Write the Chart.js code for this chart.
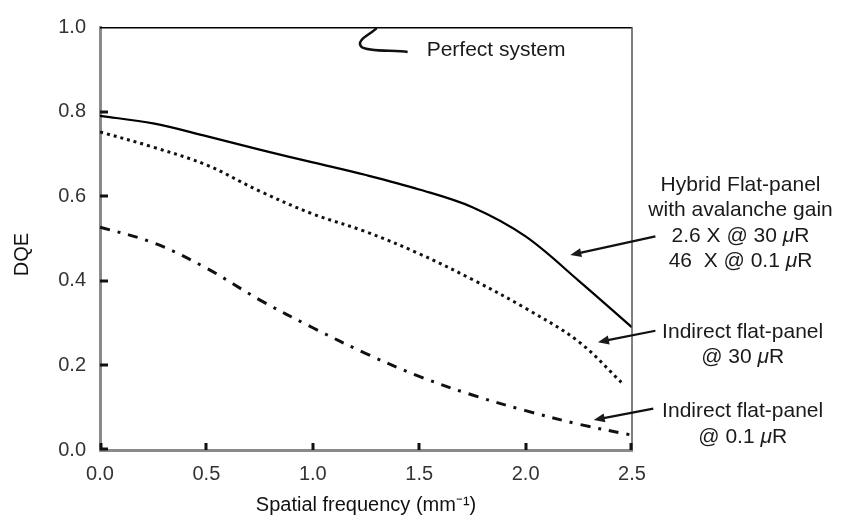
<!DOCTYPE html>
<html>
<head>
<meta charset="utf-8">
<script src="https://cdn.jsdelivr.net/npm/chart.js@4.4.1/dist/chart.umd.min.js"></script>
<style>
  html, body { margin: 0; padding: 0; background: #fff; }
</style>
</head>
<body>
<canvas id="chart_out" width="843" height="527"></canvas>
<script>
// DATA
var freq = [0, 0.25, 0.5, 0.75, 1.0, 1.25, 1.5, 1.75, 2.0, 2.25, 2.5];
var freqDotted = [0, 0.25, 0.5, 0.75, 1.0, 1.25, 1.5, 1.75, 2.0, 2.25, 2.45];
var hybridDQE = [0.79, 0.772, 0.742, 0.71, 0.68, 0.65, 0.616, 0.574, 0.505, 0.40, 0.29]; // solid
var indirect30 = [0.752, 0.716, 0.674, 0.612, 0.558, 0.516, 0.464, 0.403, 0.335, 0.256, 0.16]; // dotted
var indirect01 = [0.527, 0.49, 0.43, 0.355, 0.289, 0.228, 0.174, 0.13, 0.093, 0.061, 0.035]; // dash-dot
var perfectX = [0, 2.5];
var perfectDQE = [1.0, 1.0];
var xTicks = [0, 0.5, 1.0, 1.5, 2.0, 2.5];
var yTicks = [0, 0.2, 0.4, 0.6, 0.8, 1.0];

var FONT = '"Liberation Sans", Arial, Helvetica, sans-serif';

function pairs(xs, ys) {
  var out = [];
  for (var i = 0; i < xs.length; i++) {
    out.push({ x: xs[i], y: ys[i] });
  }
  return out;
}

// arrows + labels, anchored in data units
var notes = [
  { lines: ['Hybrid Flat-panel', 'with avalanche gain', '2.6 X @ 30 \u03BCR', '46  X @ 0.1 \u03BCR'],
    tx: 3.01, ty: 0.627, from: [2.61, 0.505], to: [2.21, 0.461] },
  { lines: ['Indirect flat-panel', '@ 30 \u03BCR'],
    tx: 3.02, ty: 0.279, from: [2.61, 0.282], to: [2.34, 0.255] },
  { lines: ['Indirect flat-panel', '@ 0.1 \u03BCR'],
    tx: 3.02, ty: 0.091, from: [2.60, 0.098], to: [2.32, 0.071] }
];

// centred text line where the mu is set in italic, like the original
function textWithMu(ctx, s, cx, y) {
  var parts = s.split('\u03BC');
  var normal = '21px ' + FONT, ital = 'italic 21px ' + FONT;
  var w = 0, widths = [];
  parts.forEach(function (p, i) {
    ctx.font = normal;
    widths.push(ctx.measureText(p).width);
    w += widths[widths.length - 1];
    if (i < parts.length - 1) {
      ctx.font = ital;
      widths.push(ctx.measureText('\u03BC').width);
      w += widths[widths.length - 1];
    }
  });
  var x = cx - w / 2, k = 0;
  ctx.textAlign = 'left';
  parts.forEach(function (p, i) {
    ctx.font = normal;
    ctx.fillText(p, x, y);
    x += widths[k++];
    if (i < parts.length - 1) {
      ctx.font = ital;
      ctx.fillText('\u03BC', x, y);
      x += widths[k++];
    }
  });
}

function drawArrow(ctx, x1, y1, x2, y2) {
  var ang = Math.atan2(y2 - y1, x2 - x1);
  var len = 11, half = 4.5;
  ctx.beginPath();
  ctx.moveTo(x1, y1);
  ctx.lineTo(x2 - Math.cos(ang) * len * 0.8, y2 - Math.sin(ang) * len * 0.8);
  ctx.stroke();
  ctx.beginPath();
  ctx.moveTo(x2, y2);
  ctx.lineTo(x2 - Math.cos(ang) * len - Math.sin(ang) * half, y2 - Math.sin(ang) * len + Math.cos(ang) * half);
  ctx.lineTo(x2 - Math.cos(ang) * len + Math.sin(ang) * half, y2 - Math.sin(ang) * len - Math.cos(ang) * half);
  ctx.closePath();
  ctx.fill();
}

var extras = {
  id: 'extras',
  afterDraw: function (chart) {
    var ctx = chart.ctx;
    var xs = chart.scales.x, ys = chart.scales.y;
    var area = chart.chartArea;
    ctx.save();

    // right frame line
    ctx.strokeStyle = '#555';
    ctx.lineWidth = 1.5;
    ctx.beginPath();
    ctx.moveTo(area.right, area.top);
    ctx.lineTo(area.right, area.bottom);
    ctx.stroke();

    // inward tick marks
    ctx.strokeStyle = '#111';
    ctx.lineWidth = 3;
    xTicks.forEach(function (v) {
      var px = Math.round(xs.getPixelForValue(v));
      if (v === 0) px += 1;
      if (v === 2.5) px -= 1;
      ctx.beginPath();
      ctx.moveTo(px, area.bottom);
      ctx.lineTo(px, area.bottom - 7);
      ctx.stroke();
    });
    yTicks.forEach(function (v) {
      if (v === 1.0) return;
      var py = Math.round(ys.getPixelForValue(v));
      if (v === 0) py -= 1;
      ctx.beginPath();
      ctx.moveTo(area.left, py);
      ctx.lineTo(area.left + 8, py);
      ctx.stroke();
    });

    ctx.fillStyle = '#1a1a1a';
    ctx.strokeStyle = '#111';

    // y axis title, sitting a little below the middle as in the original
    ctx.save();
    ctx.translate(22, ys.getPixelForValue(0.462));
    ctx.rotate(-Math.PI / 2);
    ctx.font = '20px ' + FONT;
    ctx.textAlign = 'center';
    ctx.textBaseline = 'middle';
    ctx.fillStyle = '#111';
    ctx.fillText('DQE', 0, 0);
    ctx.restore();

    // "Perfect system" squiggle pointing to the DQE = 1 line
    var ax = xs.getPixelForValue(1.3), ay = ys.getPixelForValue(1.0);
    ctx.lineWidth = 2.5;
    ctx.beginPath();
    ctx.moveTo(ax, ay + 1);
    ctx.bezierCurveTo(ax - 5, ay + 7, ax - 22, ay + 13, ax - 15, ay + 20);
    ctx.bezierCurveTo(ax - 9, ay + 25, ax + 18, ay + 23, ax + 31, ay + 25);
    ctx.stroke();
    ctx.font = '21px ' + FONT;
    ctx.textAlign = 'left';
    ctx.textBaseline = 'middle';
    ctx.fillText('Perfect system', ax + 50, ay + 23);

    // labelled arrows
    ctx.lineWidth = 2.2;
    notes.forEach(function (n) {
      var tx = xs.getPixelForValue(n.tx), ty = ys.getPixelForValue(n.ty);
      n.lines.forEach(function (s, i) {
        textWithMu(ctx, s, tx, ty + i * 25.5);
      });
      drawArrow(ctx,
        xs.getPixelForValue(n.from[0]), ys.getPixelForValue(n.from[1]),
        xs.getPixelForValue(n.to[0]), ys.getPixelForValue(n.to[1]));
    });
    ctx.restore();
  }
};

var ctx = document.getElementById('chart_out').getContext('2d');
var cData = new Chart(ctx, {
  type: 'line',
  data: {
    datasets: [
      { label: 'Perfect system', data: pairs(perfectX, perfectDQE), borderColor: '#000', borderWidth: 3, pointRadius: 0, tension: 0 },
      { label: 'Hybrid flat-panel', data: pairs(freq, hybridDQE), borderColor: '#000', borderWidth: 2.2, pointRadius: 0, tension: 0.35 },
      { label: 'Indirect @ 30 uR', data: pairs(freqDotted, indirect30), borderColor: '#111', borderWidth: 3, borderDash: [3, 4], pointRadius: 0, tension: 0.35 },
      { label: 'Indirect @ 0.1 uR', data: pairs(freq, indirect01), borderColor: '#111', borderWidth: 3, borderDash: [10, 8, 3, 8], pointRadius: 0, tension: 0.35 }
    ]
  },
  options: {
    responsive: false,
    animation: false,
    layout: { padding: { top: 27, right: 211, left: 0, bottom: 0 } },
    plugins: { legend: { display: false }, tooltip: { enabled: false } },
    scales: {
      x: {
        type: 'linear', min: 0, max: 2.5,
        afterFit: function (s) { s.height = 77; },
        afterBuildTicks: function (s) { s.ticks = xTicks.map(function (v) { return { value: v }; }); },
        grid: { display: false, drawTicks: false },
        border: { display: true, color: '#8a8a8a', width: 3 },
        ticks: { padding: 12, color: '#333', font: { family: FONT, size: 20 }, maxRotation: 0,
          callback: function (v) { return v.toFixed(1); } },
        title: { display: true, text: 'Spatial frequency (mm\u207B\u00B9)', color: '#111',
          font: { family: FONT, size: 20 }, padding: { top: 0, bottom: 10 } }
      },
      y: {
        type: 'linear', min: 0, max: 1.0,
        afterFit: function (s) { s.width = 100; },
        afterBuildTicks: function (s) { s.ticks = yTicks.map(function (v) { return { value: v }; }); },
        grid: { display: false, drawTicks: false },
        border: { display: true, color: '#8a8a8a', width: 3 },
        ticks: { padding: 14, color: '#333', font: { family: FONT, size: 20 },
          callback: function (v) { return v.toFixed(1); } },
        title: { display: false }
      }
    }
  },
  plugins: [extras]
});
</script>
</body>
</html>
